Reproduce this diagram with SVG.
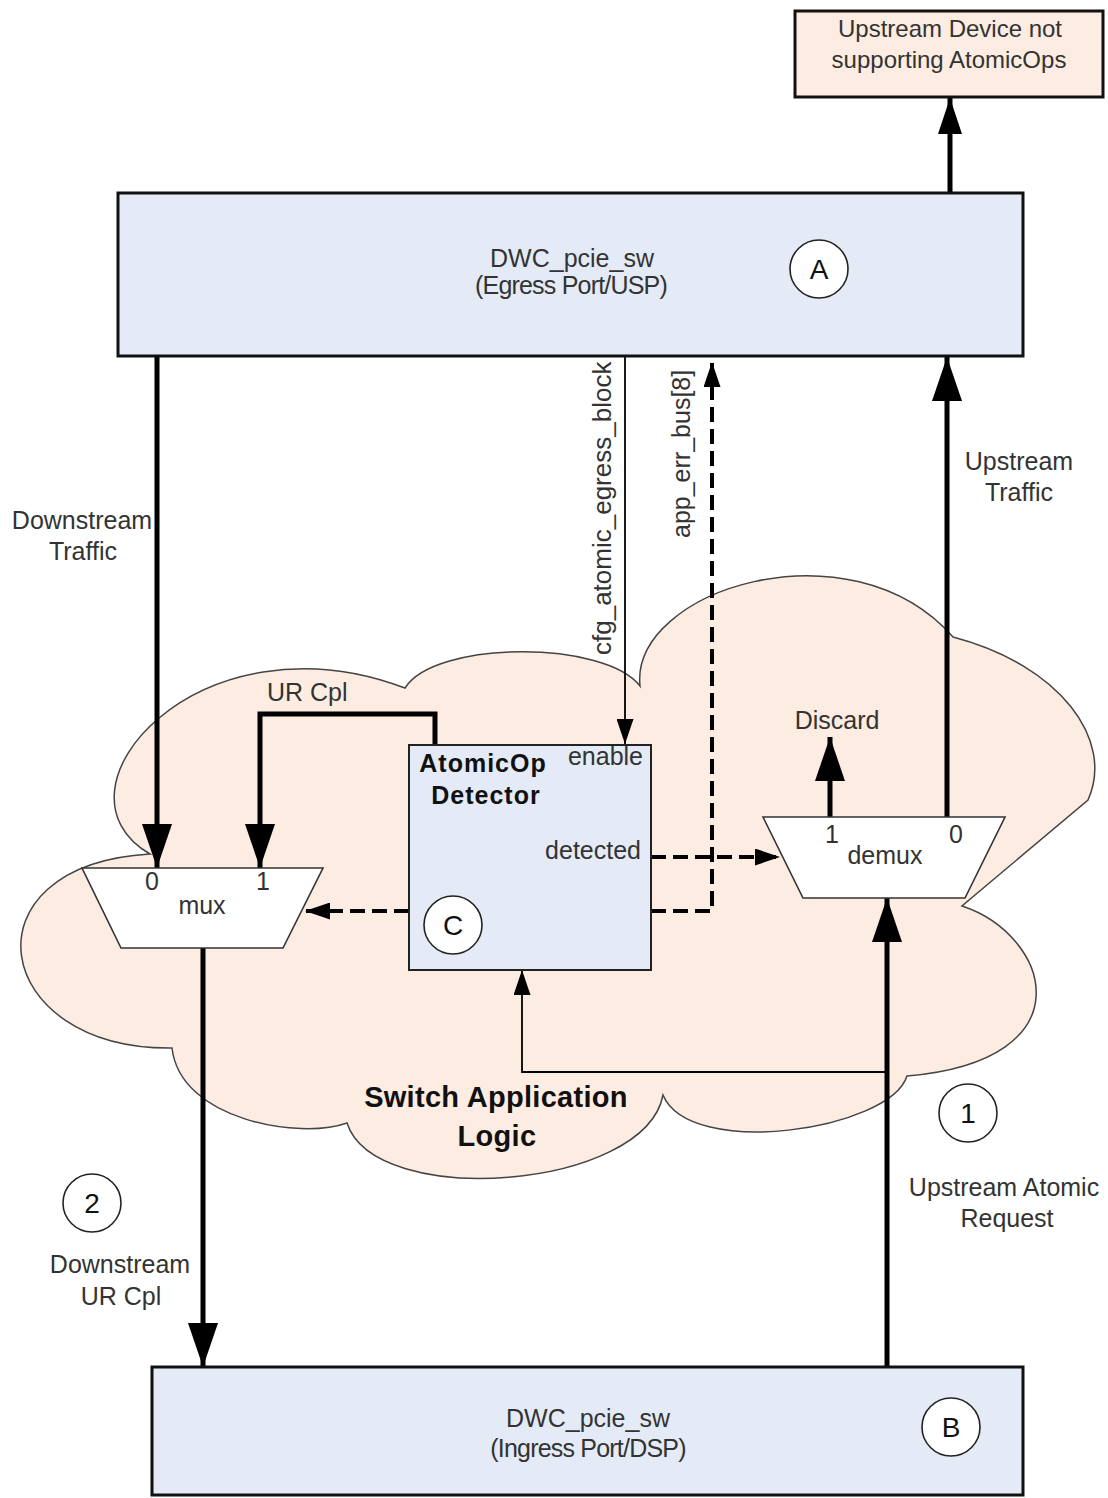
<svg xmlns="http://www.w3.org/2000/svg" width="1108" height="1498" viewBox="0 0 1108 1498">
<style>
  text { font-family: "Liberation Sans", Arial, sans-serif; fill: #333; font-size: 25px; }
  .b { font-weight: bold; fill: #111; letter-spacing: 1px; }
  .mid { text-anchor: middle; }
  .end { text-anchor: end; }
  .box { fill: #e4ebf6; stroke: #111; stroke-width: 3; }
  .peach { fill: #fcece1; stroke: #111; stroke-width: 3; }
  .det { fill: #e4ebf6; stroke: #222; stroke-width: 2; }
  .mx { fill: #fff; stroke: #333; stroke-width: 1.6; }
  .badge { fill: #fff; stroke: #222; stroke-width: 1.6; }
  .thick { fill: none; stroke: #000; stroke-width: 5; }
  .thin { fill: none; stroke: #000; stroke-width: 1.8; }
  .dash { fill: none; stroke: #000; stroke-width: 4; stroke-dasharray: 15 7; }
</style>
<defs>
  <marker id="big" markerUnits="userSpaceOnUse" markerWidth="44" markerHeight="30" refX="44" refY="15" orient="auto">
    <path d="M0,0 L44,15 L0,30 Z" fill="#000"/>
  </marker>
  <marker id="med" markerUnits="userSpaceOnUse" markerWidth="36" markerHeight="24" refX="36" refY="12" orient="auto">
    <path d="M0,0 L36,12 L0,24 Z" fill="#000"/>
  </marker>
  <marker id="small" markerUnits="userSpaceOnUse" markerWidth="25" markerHeight="17" refX="25" refY="8.5" orient="auto">
    <path d="M0,0 L25,8.5 L0,17 Z" fill="#000"/>
  </marker>
</defs>

<g id="cloud">
  <path d="M150,854 C40,790 200,610 405,688 C435,640 605,640 640,686 C630,590 850,520 953,637 C1060,665 1115,740 1088,800 L962,906 C1050,935 1090,1060 907,1076 C890,1130 690,1160 663,1095 C645,1190 375,1210 347,1123 C300,1140 180,1120 172,1048 C-10,1050 -40,865 150,854 Z" fill="#fcece1" stroke="#444" stroke-width="1.5"/>
  <text class="b mid" x="496" y="1107" style="font-size:29px;letter-spacing:0.3px">Switch Application</text>
  <text class="b mid" x="497" y="1146" style="font-size:29px;letter-spacing:0.3px">Logic</text>
</g>

<g id="connectors">
  <path class="thick" d="M950,193 V98" marker-end="url(#med)"/>
  <path class="thick" d="M157,356 V868" marker-end="url(#big)"/>
  <path class="thick" d="M435,745 V714 H260 V868" marker-end="url(#big)"/>
  <path class="thick" d="M203,948 V1367" marker-end="url(#big)"/>
  <path class="thick" d="M887,1367 V898" marker-end="url(#big)"/>
  <path class="thick" d="M830,817 V737" marker-end="url(#big)"/>
  <path class="thick" d="M947,817 V357" marker-end="url(#big)"/>
  <path class="thin" d="M625,356 V744" marker-end="url(#small)"/>
  <path class="thin" d="M887,1072 H522 V970" marker-end="url(#small)"/>
  <path class="dash" d="M409,911 H305" marker-end="url(#small)"/>
  <path class="dash" d="M651,857 H780" marker-end="url(#small)"/>
  <path class="dash" d="M651,911 H712 V362" marker-end="url(#small)"/>
</g>

<g id="node-upstream-device">
  <rect class="peach" x="795" y="11" width="308" height="86"/>
  <text class="mid" x="950" y="37" style="font-size:24px">Upstream Device not</text>
  <text class="mid" x="949" y="68" style="font-size:24px">supporting AtomicOps</text>
</g>

<g id="node-egress">
  <rect class="box" x="118" y="193" width="905" height="163"/>
  <text class="mid" x="572" y="267">DWC_pcie_sw</text>
  <text class="mid" x="571" y="294" style="letter-spacing:-0.8px">(Egress Port/USP)</text>
  <circle class="badge" cx="819" cy="269" r="29"/>
  <text class="mid" x="819" y="279" style="font-size:28px;fill:#111">A</text>
</g>

<g id="node-ingress">
  <rect class="box" x="152" y="1367" width="871" height="128"/>
  <text class="mid" x="588" y="1427">DWC_pcie_sw</text>
  <text class="mid" x="588" y="1457" style="letter-spacing:-0.8px">(Ingress Port/DSP)</text>
  <circle class="badge" cx="951" cy="1427" r="29"/>
  <text class="mid" x="951" y="1437" style="font-size:28px;fill:#111">B</text>
</g>

<g id="node-detector">
  <rect class="det" x="409" y="745" width="242" height="225"/>
  <text class="b mid" x="483" y="772">AtomicOp</text>
  <text class="b mid" x="486" y="804">Detector</text>
  <text class="end" x="643" y="765">enable</text>
  <text class="end" x="641" y="859">detected</text>
  <circle class="badge" cx="453" cy="925" r="29"/>
  <text class="mid" x="453" y="935" style="font-size:28px;fill:#111">C</text>
</g>

<g id="node-mux">
  <polygon class="mx" points="82,868 323,868 283,948 121,948"/>
  <text class="mid" x="152" y="890">0</text>
  <text class="mid" x="263" y="890">1</text>
  <text class="mid" x="202" y="914">mux</text>
</g>

<g id="node-demux">
  <polygon class="mx" points="763,817 1005,817 965,898 803,898"/>
  <text class="mid" x="832" y="843">1</text>
  <text class="mid" x="956" y="843">0</text>
  <text class="mid" x="885" y="864">demux</text>
</g>

<g id="labels">
  <text class="mid" x="82" y="529">Downstream</text>
  <text class="mid" x="83" y="560">Traffic</text>
  <text class="mid" x="1019" y="470">Upstream</text>
  <text class="mid" x="1019" y="501">Traffic</text>
  <text x="267" y="701">UR Cpl</text>
  <text class="mid" x="837" y="729">Discard</text>
  <text transform="translate(611,655) rotate(-90)" style="font-size:26px">cfg_atomic_egress_block</text>
  <text transform="translate(690,538) rotate(-90)" style="font-size:25px">app_err_bus[8]</text>
  <text class="mid" x="1004" y="1196">Upstream Atomic</text>
  <text class="mid" x="1007" y="1227">Request</text>
  <text class="mid" x="120" y="1273">Downstream</text>
  <text class="mid" x="121" y="1305">UR Cpl</text>
</g>

<g id="badge-1">
  <circle class="badge" cx="968" cy="1113" r="29"/>
  <text class="mid" x="968" y="1123" style="font-size:28px;fill:#111">1</text>
</g>
<g id="badge-2">
  <circle class="badge" cx="92" cy="1203" r="29"/>
  <text class="mid" x="92" y="1213" style="font-size:28px;fill:#111">2</text>
</g>
</svg>
